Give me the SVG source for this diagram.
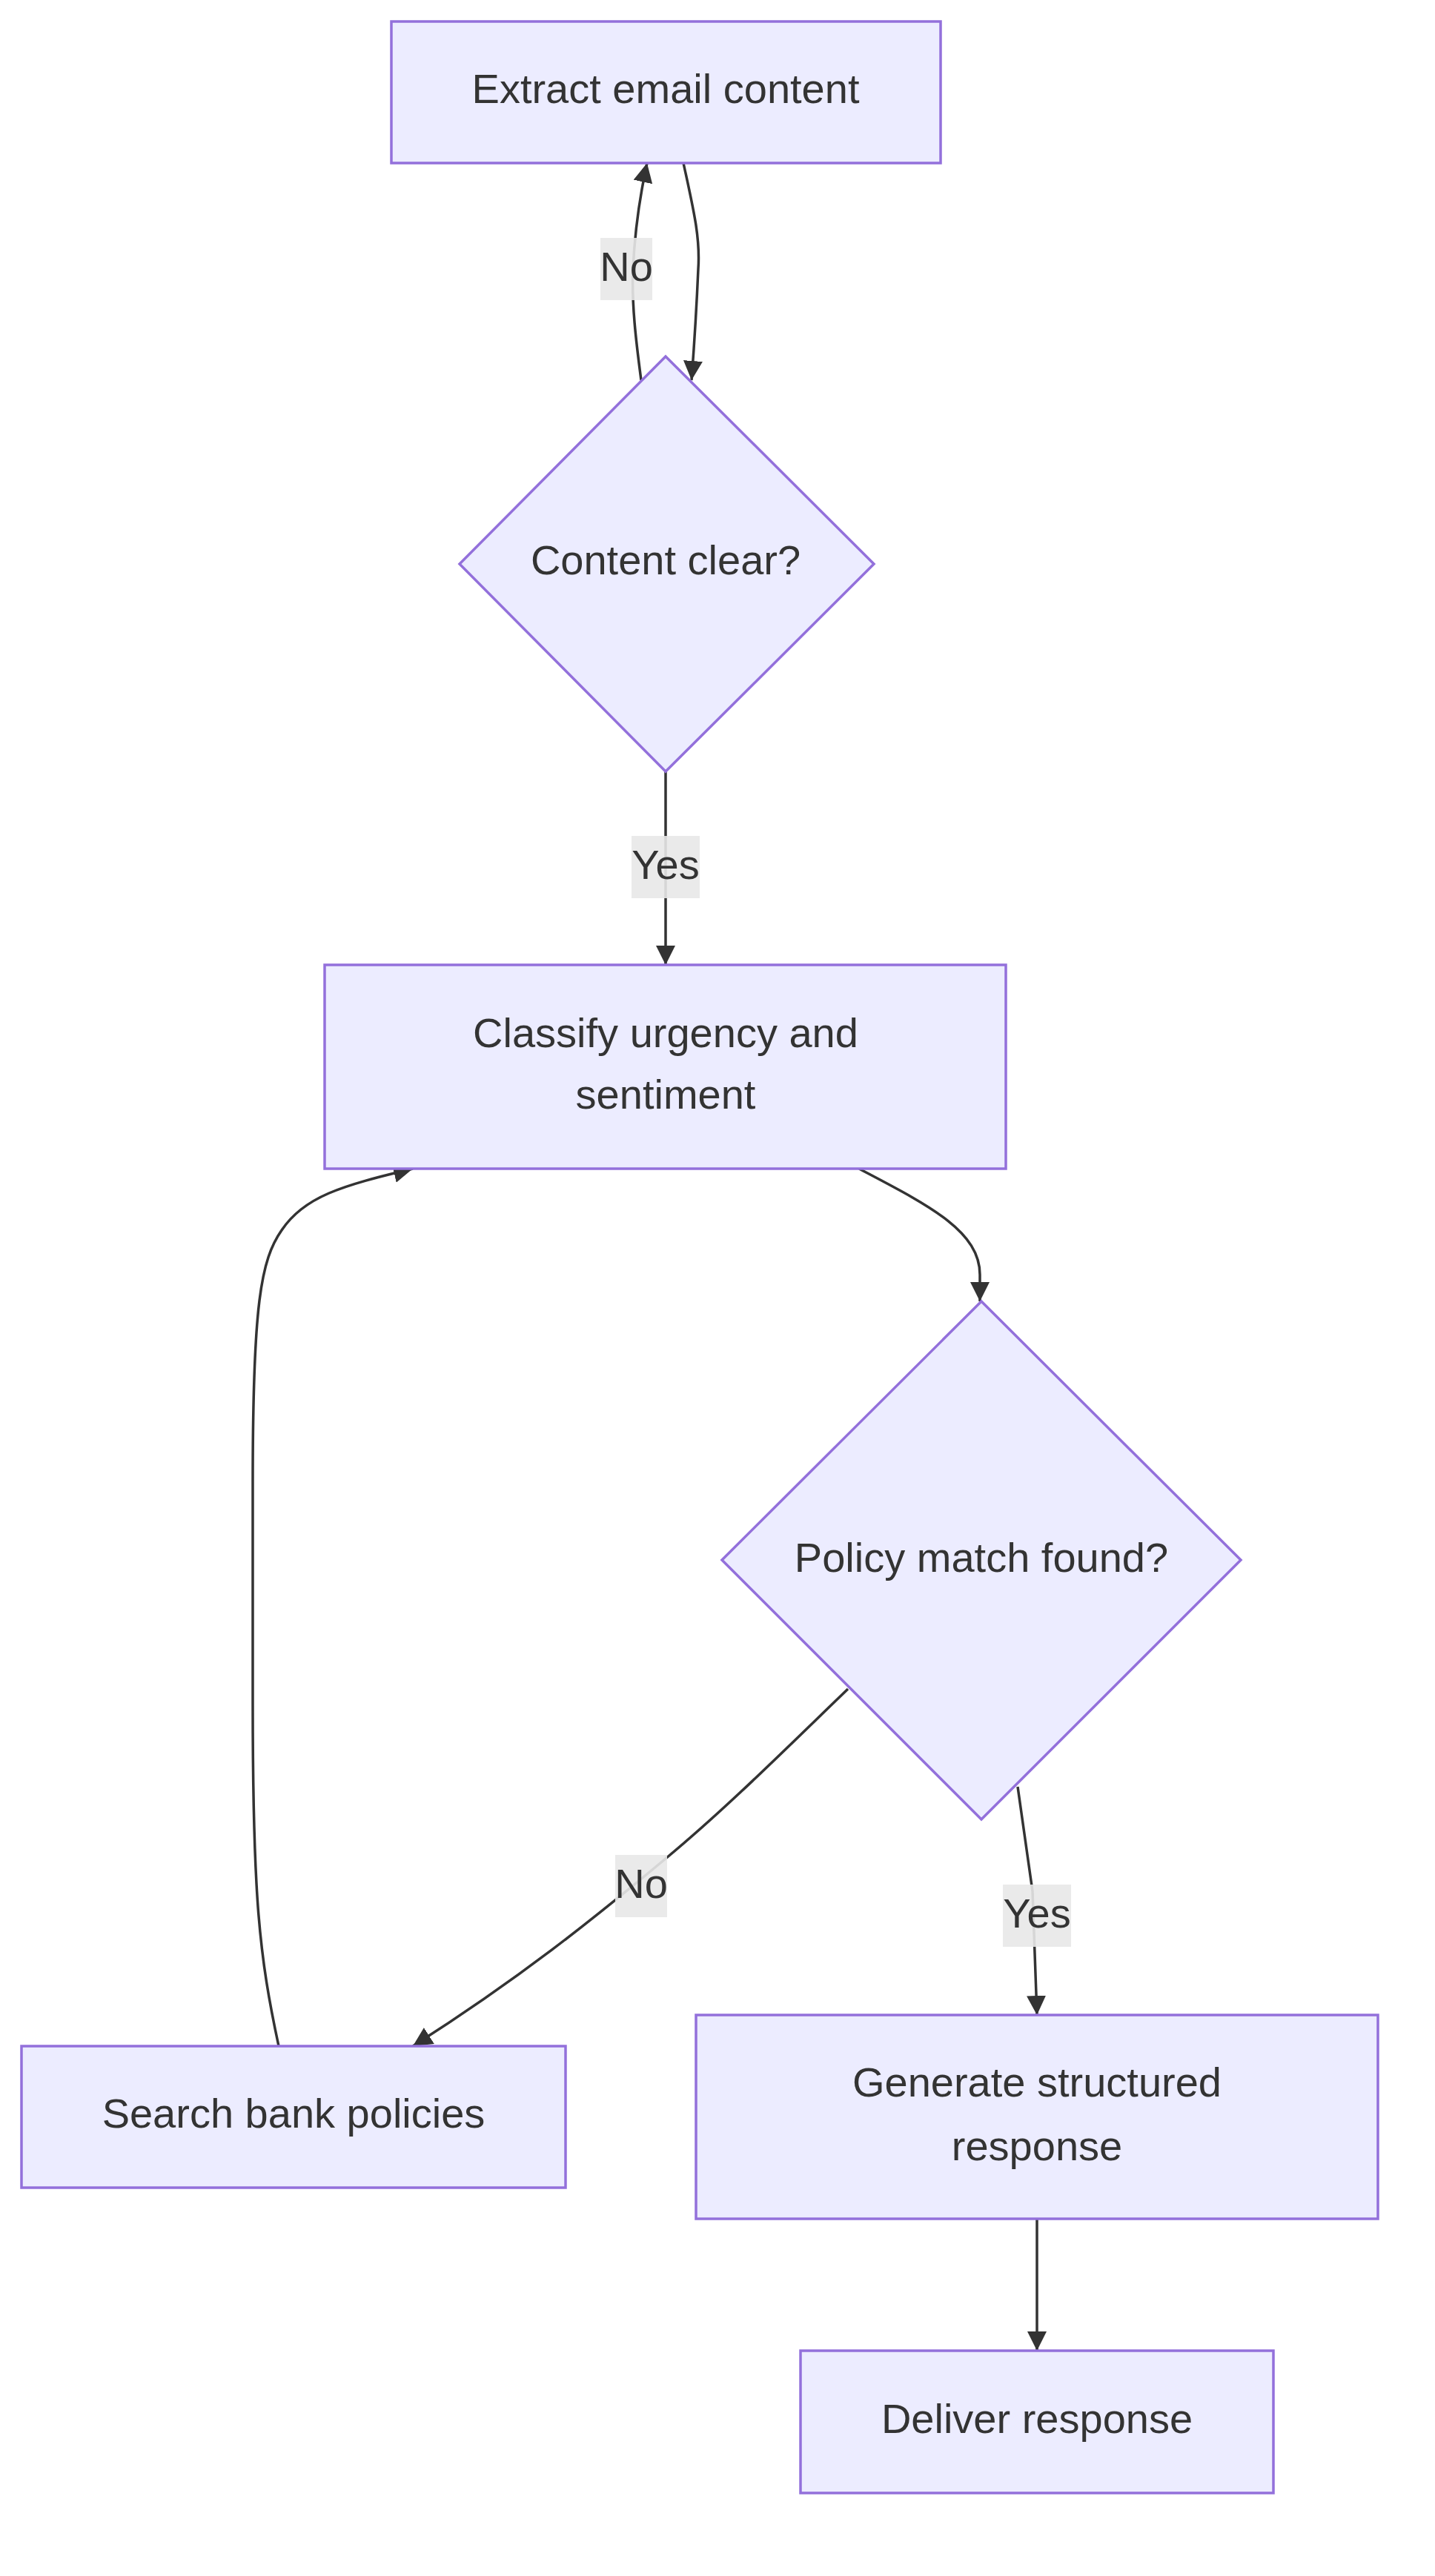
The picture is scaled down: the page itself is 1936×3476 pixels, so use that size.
<svg xmlns="http://www.w3.org/2000/svg" width="1936" height="3476" viewBox="0 0 1936 3476">
<style>
.n{fill:#ECECFF;stroke:#9370DB;stroke-width:3.5}
.t{font-family:"Liberation Sans",Arial,sans-serif;font-size:56px;fill:#333;text-anchor:middle}
.e{fill:none;stroke:#333;stroke-width:3.5}
.lb{fill:#e8e8e8;opacity:0.9}
</style>
<defs>
<marker id="a" viewBox="0 0 10 10" refX="10" refY="5" markerWidth="26" markerHeight="26" markerUnits="userSpaceOnUse" orient="auto">
<path d="M0,0 L10,5 L0,10 z" fill="#333"/>
</marker>
</defs>
<rect width="1936" height="3476" fill="#fff"/>
<g id="edges">
<path class="e" marker-end="url(#a)" d="M922,220 C935,280 945,320 942,363 C940,410 937,460 933,513"/>
<path class="e" marker-end="url(#a)" d="M865,513 C858,460 852,410 854,363 C856,320 862,270 873,220"/>
<path class="e" marker-end="url(#a)" d="M898,1041 L898,1302"/>
<path class="e" marker-end="url(#a)" d="M1159,1577 C1250,1625 1322,1660 1322,1720 L1322,1756"/>
<path class="e" marker-end="url(#a)" d="M1144,2279 C1060,2360 980,2440 898,2508 C800,2590 700,2670 557,2761"/>
<path class="e" marker-end="url(#a)" d="M1373,2411 L1393,2552 L1399,2719"/>
<path class="e" marker-end="url(#a)" d="M376,2761 C350,2640 341,2560 341,2300 L341,2000 C341,1760 352,1700 380,1660 C410,1615 460,1600 557,1577"/>
<path class="e" marker-end="url(#a)" d="M1399,2994 L1399,3172"/>
<rect class="lb" x="810" y="321" width="70" height="84"/>
<text class="t" x="845" y="359" dy="0.35em">No</text>
<rect class="lb" x="852" y="1128" width="92" height="84"/>
<text class="t" x="898" y="1166" dy="0.35em">Yes</text>
<rect class="lb" x="830" y="2503" width="70" height="84"/>
<text class="t" x="865" y="2541" dy="0.35em">No</text>
<rect class="lb" x="1353" y="2543" width="92" height="84"/>
<text class="t" x="1399" y="2581" dy="0.35em">Yes</text>
</g>
<g id="extract"><rect class="n" x="528" y="29" width="741" height="191"/><text class="t" x="898" y="119" dy="0.35em">Extract email content</text></g>
<g id="clear"><polygon class="n" points="898,481 1179,761 898,1041 620,761"/><text class="t" x="898" y="755" dy="0.35em">Content clear?</text></g>
<g id="classify"><rect class="n" x="438" y="1302" width="919" height="275"/><text class="t" x="898" y="1393" dy="0.35em">Classify urgency and</text><text class="t" x="898" y="1476" dy="0.35em">sentiment</text></g>
<g id="policy"><polygon class="n" points="1324,1756 1674,2105 1324,2455 974,2105"/><text class="t" x="1324" y="2101" dy="0.35em">Policy match found?</text></g>
<g id="search"><rect class="n" x="29" y="2761" width="734" height="191"/><text class="t" x="396" y="2851" dy="0.35em">Search bank policies</text></g>
<g id="generate"><rect class="n" x="939" y="2719" width="920" height="275"/><text class="t" x="1399" y="2809" dy="0.35em">Generate structured</text><text class="t" x="1399" y="2895" dy="0.35em">response</text></g>
<g id="deliver"><rect class="n" x="1080" y="3172" width="638" height="192"/><text class="t" x="1399" y="3263" dy="0.35em">Deliver response</text></g>
</svg>
